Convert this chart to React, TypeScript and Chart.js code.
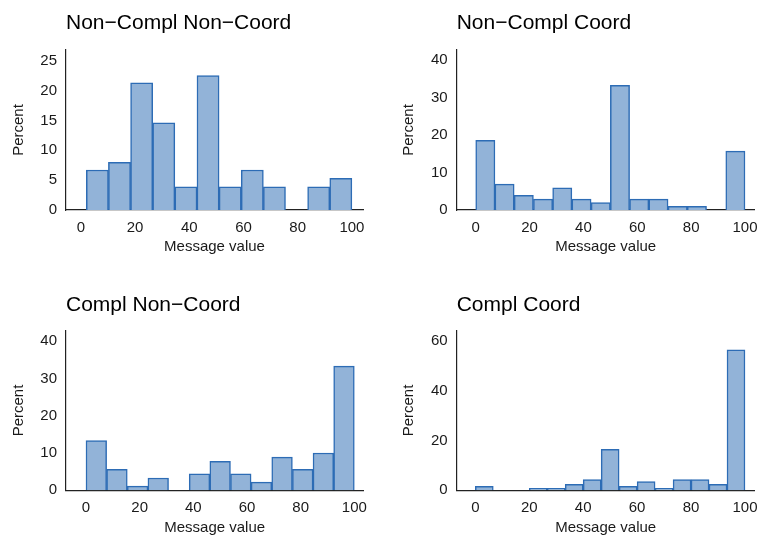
import React, { useEffect, useRef } from "react";
import { Chart, registerables } from "chart.js";

Chart.register(...registerables);

// ---------- data ----------
const titles = ["Non−Compl Non−Coord", "Non−Compl Coord", "Compl Non−Coord", "Compl Coord"];
const xAxisTitle = "Message value";
const yAxisTitle = "Percent";
const xTickValues = [0, 20, 40, 60, 80, 100];

const yTicks1 = [0, 5, 10, 15, 20, 25];
const yTicks2 = [0, 10, 20, 30, 40];
const yTicks3 = [0, 10, 20, 30, 40];
const yTicks4 = [0, 20, 40, 60];

// histogram bins: first edge, bin width, percent per bin
const binStart1 = 2;
const binWidth1 = 98 / 12;
const percent1 = [6.7, 8.0, 21.3, 14.6, 3.9, 22.5, 3.9, 6.7, 3.9, 0, 3.9, 5.3];

const binStart2 = 0;
const binWidth2 = 100 / 14;
const percent2 = [18.6, 6.9, 3.9, 2.9, 5.9, 2.9, 2.0, 33.3, 2.9, 2.9, 1.0, 1.0, 0, 15.7];

const binStart3 = 0;
const binWidth3 = 100 / 13;
const percent3 = [13.3, 5.6, 1.1, 3.3, 0, 4.4, 7.8, 4.4, 2.2, 8.9, 5.6, 10.0, 33.3];

const binStart4 = 0;
const binWidth4 = 100 / 15;
const percent4 = [1.6, 0, 0, 0.8, 0.8, 2.4, 4.3, 16.5, 1.6, 3.5, 0.8, 4.3, 4.3, 2.4, 56.4];

// ---------- styles / layout ----------
const FONT = "'Liberation Sans', Arial, Helvetica, sans-serif";
const FILL = "#92b3d8";
const EDGE = "#2d6cb5";
const AXIS = "#222222";
const TEXT = "#1a1a1a";

type PanelSpec = {
  title: string;
  binStart: number;
  binWidth: number;
  values: number[];
  yTicks: number[];
  xMin: number;
  xMax: number;
  yMax: number;
  left: number;
  top: number;
  w: number;
  h: number;
  area: { l: number; t: number; r: number; b: number };
  titleBase: number;
  xTitleBase: number;
  yTitleBase: number;
};

const panels: PanelSpec[] = [
  {
    title: titles[0], binStart: binStart1, binWidth: binWidth1, values: percent1, yTicks: yTicks1,
    xMin: -5.5, xMax: 104.1, yMax: 26.8,
    left: 0, top: 0, w: 379, h: 270, area: { l: 66, t: 50, r: 363, b: 210 },
    titleBase: 30, xTitleBase: 252.3, yTitleBase: 24,
  },
  {
    title: titles[1], binStart: binStart2, binWidth: binWidth2, values: percent2, yTicks: yTicks2,
    xMin: -7.06, xMax: 103.6, yMax: 42.7,
    left: 379, top: 0, w: 379, h: 270, area: { l: 77.7, t: 50, r: 375.7, b: 210 },
    titleBase: 30, xTitleBase: 252.3, yTitleBase: 35,
  },
  {
    title: titles[2], binStart: binStart3, binWidth: binWidth3, values: percent3, yTicks: yTicks3,
    xMin: -7.45, xMax: 103.35, yMax: 42.8,
    left: 0, top: 270, w: 379, h: 271, area: { l: 66, t: 60.7, r: 363.3, b: 220.3 },
    titleBase: 41.7, xTitleBase: 263.3, yTitleBase: 24,
  },
  {
    title: titles[3], binStart: binStart4, binWidth: binWidth4, values: percent4, yTicks: yTicks4,
    xMin: -6.9, xMax: 103.6, yMax: 64.1,
    left: 379, top: 270, w: 379, h: 271, area: { l: 77.7, t: 60.7, r: 375.7, b: 220.3 },
    titleBase: 41.7, xTitleBase: 263.3, yTitleBase: 35,
  },
];

function Panel({ spec }: { spec: PanelSpec }) {
  const ref = useRef<HTMLCanvasElement | null>(null);

  useEffect(() => {
    if (!ref.current) return;
    const s = spec;
    const data = s.values.map((v, i) => ({
      x: s.binStart + s.binWidth * (i + 0.5),
      y: v === 0 ? null : v,
    }));
    const titleSize = 21;
    const titleLH = titleSize * 1.2;
    const titleTop = s.titleBase - 0.33 * titleSize - titleLH / 2;
    const titleBottom = s.area.t - titleTop - titleLH;
    const axisSize = 15;
    const axisLH = axisSize * 1.2;

    const chart = new Chart(ref.current, {
      type: "bar",
      data: {
        datasets: [
          {
            data,
            backgroundColor: FILL,
            borderColor: EDGE,
            borderWidth: 1.5,
            barPercentage: 1,
            categoryPercentage: 1,
          },
        ],
      },
      options: {
        responsive: false,
        animation: false,
        devicePixelRatio: 1,
        layout: { padding: { left: 0, top: 0, right: s.w - s.area.r, bottom: 0 } },
        plugins: {
          legend: { display: false },
          tooltip: { enabled: false },
          title: {
            display: true,
            text: s.title,
            align: "start",
            fullSize: false,
            color: "#000",
            font: { family: FONT, size: titleSize, weight: "normal", lineHeight: 1.2 },
            padding: { top: titleTop, bottom: titleBottom },
          },
        },
        scales: {
          x: {
            type: "linear",
            offset: false,
            min: s.xMin,
            max: s.xMax,
            grid: { display: false, drawTicks: false, offset: false },
            border: { display: true, color: AXIS, width: 1.2 },
            afterBuildTicks: (sc: any) => {
              sc.ticks = xTickValues.map((v) => ({ value: v }));
            },
            afterFit: (sc: any) => {
              sc.height = s.h - s.area.b;
              sc.paddingLeft = 0;
              sc.paddingRight = 0;
            },
            ticks: {
              color: TEXT,
              padding: 8.5,
              maxRotation: 0,
              autoSkip: false,
              font: { family: FONT, size: axisSize, lineHeight: 1.2 },
            },
            title: {
              display: true,
              text: xAxisTitle,
              color: TEXT,
              font: { family: FONT, size: axisSize, lineHeight: 1.2 },
              padding: { top: 0, bottom: s.h - axisLH / 2 - (s.xTitleBase - 0.33 * axisSize) },
            },
          },
          y: {
            type: "linear",
            min: 0,
            max: s.yMax,
            grid: { display: false, drawTicks: false },
            border: { display: true, color: AXIS, width: 1.2 },
            afterBuildTicks: (sc: any) => {
              sc.ticks = s.yTicks.map((v) => ({ value: v }));
            },
            afterFit: (sc: any) => {
              sc.width = s.area.l;
              sc.paddingTop = 0;
              sc.paddingBottom = 0;
            },
            ticks: {
              color: TEXT,
              padding: 9,
              autoSkip: false,
              font: { family: FONT, size: axisSize, lineHeight: 1.2 },
            },
            title: {
              display: true,
              text: yAxisTitle,
              color: TEXT,
              font: { family: FONT, size: axisSize, lineHeight: 1.2 },
              padding: { top: s.yTitleBase - 0.33 * axisSize - axisLH / 2, bottom: 0 },
            },
          },
        },
      } as any,
    });
    return () => chart.destroy();
  }, [spec]);

  return (
    <div
      style={{
        position: "absolute",
        left: spec.left,
        top: spec.top,
        width: spec.w,
        height: spec.h,
      }}
    >
      <canvas ref={ref} width={spec.w} height={spec.h} style={{ display: "block", width: spec.w, height: spec.h }} />
    </div>
  );
}

export default function App() {
  return (
    <div style={{ position: "absolute", left: 0, top: 0, width: 758, height: 541, background: "#fff", overflow: "hidden" }}>
      {panels.map((p, i) => (
        <Panel key={i} spec={p} />
      ))}
    </div>
  );
}
